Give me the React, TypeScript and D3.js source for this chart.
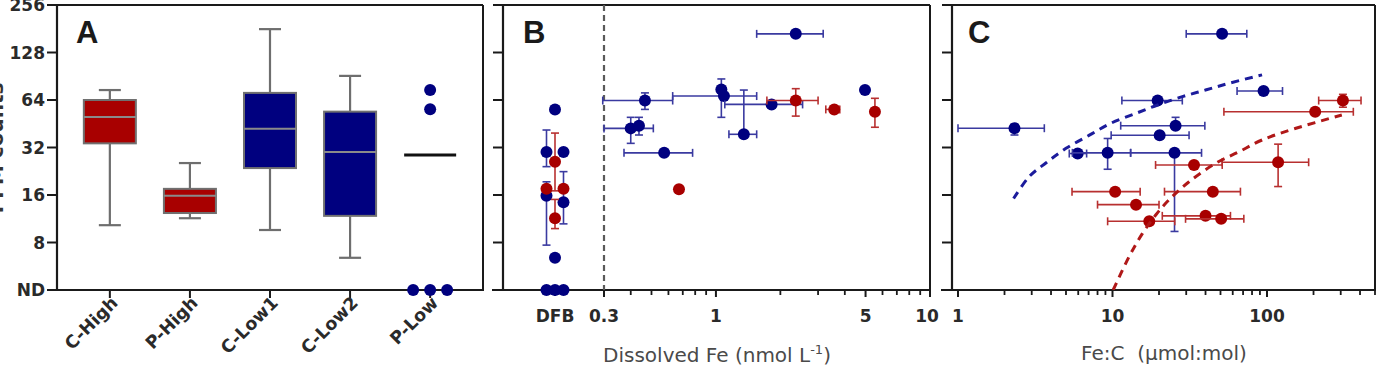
import React from 'react';
import * as d3 from 'd3';

// ---------- DATA ----------
const yTickValues = [4, 8, 16, 32, 64, 128, 256];
const yTickLabels = ['ND', '8', '16', '32', '64', '128', '256'];

// Panel A (box plots)
const categories = ['C-High', 'P-High', 'C-Low1', 'C-Low2', 'P-Low'];
const categoryGroup = ['red', 'red', 'blue', 'blue', 'blue'];
const boxMin = [10.3, 11.4, 9.6, 6.4, null];
const boxQ1 = [34, 12.3, 23.7, 11.8, null];
const boxMedian = [50, 15.8, 42, 30, 28.7];
const boxQ3 = [64, 17.5, 71, 54, null];
const boxMax = [74, 25.5, 180, 91, null];
const pLowValues = [74, 56, 4, 4, 4];
const pLowSlot = [0, 0, -1, 0, 1];

// Panel B
const bTickValues = [0.3, 1, 5, 10];
const bTickLabels = ['0.3', '1', '5', '10'];
const bMinorTicks = [0.4, 0.5, 0.6, 0.7, 0.8, 0.9, 2, 3, 4, 6, 7, 8, 9];
const dfbThreshold = 0.3;
const bBlue = [
  { x: 2.36, y: 168, xLo: 1.55, xHi: 3.17 },
  { x: 0.466, y: 63.5, xLo: 0.296, xHi: 0.628, yLo: 55.8, yHi: 71 },
  { x: 1.06, y: 74.7, yLo: 49.7, yHi: 87 },
  { x: 1.09, y: 67.8, xLo: 0.628, xHi: 1.55 },
  { x: 1.82, y: 60, xLo: 1.1, xHi: 2.54 },
  { x: 1.35, y: 38.8, xLo: 1.15, xHi: 1.55, yHi: 74 },
  { x: 4.97, y: 74 },
  { x: 0.4, y: 42.3, xLo: 0.3, xHi: 0.51, yLo: 34, yHi: 49.7 },
  { x: 0.437, y: 44, yLo: 38.4, yHi: 49.7 },
  { x: 0.573, y: 29.6, xLo: 0.372, xHi: 0.778 },
];
const bRed = [
  { x: 2.36, y: 63.5, xLo: 1.73, xHi: 3.0, yLo: 50.6, yHi: 75.5 },
  { x: 3.57, y: 55.8, xLo: 3.26, xHi: 3.79 },
  { x: 5.53, y: 53.9, yLo: 43, yHi: 65.6 },
  { x: 0.672, y: 17.4 },
];
const dfbBlue = [
  { slot: 0, y: 55.8 },
  { slot: -1, y: 30, yLo: 24.2, yHi: 41.3 },
  { slot: 1, y: 30 },
  { slot: -1, y: 15.8, yLo: 7.7, yHi: 19.4 },
  { slot: 1, y: 14.4, yLo: 10.5, yHi: 22.5 },
  { slot: 0, y: 6.4 },
  { slot: -1, y: 4 },
  { slot: 0, y: 4 },
  { slot: 1, y: 4 },
];
const dfbRed = [
  { slot: 0, y: 26, yLo: 17, yHi: 39.5 },
  { slot: -1, y: 17.5 },
  { slot: 1, y: 17.5 },
  { slot: 0, y: 11.4, yLo: 9.8, yHi: 15 },
];

// Panel C
const cTickValues = [1, 10, 100];
const cTickLabels = ['1', '10', '100'];
const cMinorTicks = [2, 3, 4, 5, 6, 7, 8, 9, 20, 30, 40, 50, 60, 70, 80, 90, 200, 300, 400, 500];
const cBlue = [
  { x: 51.2, y: 168, xLo: 30, xHi: 74 },
  { x: 95, y: 73, xLo: 64, xHi: 126 },
  { x: 19.6, y: 63.5, xLo: 11.5, xHi: 28.3 },
  { x: 2.32, y: 42.4, xLo: 1.0, xHi: 3.62, yLo: 38.4, yHi: 45 },
  { x: 25.6, y: 44, xLo: 11.3, xHi: 39.6, yHi: 49.7 },
  { x: 20.2, y: 38.3, xLo: 9.8, xHi: 31.3 },
  { x: 5.95, y: 29.3, xLo: 5.25, xHi: 6.8 },
  { x: 9.3, y: 29.6, xLo: 5.5, xHi: 13.1, yLo: 23.3, yHi: 36.5 },
  { x: 25.2, y: 29.6, xLo: 13.1, xHi: 37.7, yLo: 9.4 },
];
const cRed = [
  { x: 310, y: 63.5, xLo: 216, xHi: 406, yLo: 57.6, yHi: 69.5 },
  { x: 205, y: 53.9, xLo: 52.6, xHi: 362 },
  { x: 118, y: 25.8, xLo: 51.3, xHi: 186, yLo: 18.1, yHi: 33.6 },
  { x: 33.7, y: 24.8, xLo: 19, xHi: 51.3 },
  { x: 10.4, y: 16.8, xLo: 5.47, xHi: 15.1 },
  { x: 44.6, y: 16.8, xLo: 21.7, xHi: 67.3 },
  { x: 14.2, y: 13.9, xLo: 8, xHi: 20 },
  { x: 17.3, y: 10.9, xLo: 9.3, xHi: 25.3 },
  { x: 40, y: 11.8, xLo: 21, xHi: 58 },
  { x: 50.5, y: 11.3, xLo: 29.7, xHi: 70.8 },
];
const blueCurveX = [2.29, 2.9, 3.72, 5.0, 7.08, 9.77, 14.2, 19.6, 28.3, 40, 56.6, 92.9];
const blueCurveY = [15.2, 21, 25.6, 31.6, 38.3, 45.6, 52.7, 59.5, 67.2, 74, 81.6, 92.4];
const redCurveX = [10.1, 12.8, 15.6, 19.1, 23.2, 31.3, 46.5, 65.6, 92.9, 152, 305];
const redCurveY = [4, 6.5, 9.1, 12, 14.9, 19.4, 25.4, 30, 35.7, 42.2, 51.4];

// ---------- STYLE ----------
const FONT = '"DejaVu Sans", Verdana, sans-serif';
const LETTER_FONT = '"Liberation Sans", Arial, sans-serif';
const RED = '#a80000';
const BLUE = '#00007f';
const RED_ERR = '#b83030';
const BLUE_ERR = '#3a3aa0';
const AXIS = '#1a1a1a';
const TOP = 5;
const BOTTOM = 290;
const R = 6;

const y = d3.scaleLog().base(2).domain([4, 256]).range([BOTTOM, TOP]);

type Pt = { x?: number; y: number; xLo?: number; xHi?: number; yLo?: number; yHi?: number; slot?: number };

function ErrPoint({ px, d, xs, color, errColor }: { px: number; d: Pt; xs?: (v: number) => number; color: string; errColor: string }) {
  const py = y(d.y);
  const cap = 4;
  const els: React.ReactNode[] = [];
  if (xs && d.xLo != null && d.xHi != null) {
    const x1 = xs(d.xLo), x2 = xs(d.xHi);
    els.push(<line key="h" x1={x1} x2={x2} y1={py} y2={py} stroke={errColor} strokeWidth={1.6} />);
    els.push(<line key="hc1" x1={x1} x2={x1} y1={py - cap} y2={py + cap} stroke={errColor} strokeWidth={1.6} />);
    els.push(<line key="hc2" x1={x2} x2={x2} y1={py - cap} y2={py + cap} stroke={errColor} strokeWidth={1.6} />);
  }
  if (d.yLo != null || d.yHi != null) {
    const y1 = d.yHi != null ? y(d.yHi) : py;
    const y2 = d.yLo != null ? y(d.yLo) : py;
    els.push(<line key="v" x1={px} x2={px} y1={y1} y2={y2} stroke={errColor} strokeWidth={1.6} />);
    if (d.yHi != null) els.push(<line key="vc1" x1={px - cap} x2={px + cap} y1={y1} y2={y1} stroke={errColor} strokeWidth={1.6} />);
    if (d.yLo != null) els.push(<line key="vc2" x1={px - cap} x2={px + cap} y1={y2} y2={y2} stroke={errColor} strokeWidth={1.6} />);
  }
  return (
    <g>
      {els}
      <circle cx={px} cy={py} r={R} fill={color} />
    </g>
  );
}

function Frame({ x0, x1, axisLeft }: { x0: number; x1: number; axisLeft: number }) {
  return (
    <g>
      <line x1={x0} x2={x1} y1={TOP} y2={TOP} stroke={AXIS} strokeWidth={2} />
      <line x1={x1} x2={x1} y1={TOP} y2={BOTTOM} stroke={AXIS} strokeWidth={2} />
      <line x1={x0} x2={x0} y1={TOP - 1} y2={BOTTOM} stroke={AXIS} strokeWidth={2.2} />
      <line x1={axisLeft} x2={x1 + 1} y1={BOTTOM} y2={BOTTOM} stroke={AXIS} strokeWidth={2.2} />
      {yTickValues.map((v) => (
        <line key={v} x1={x0 - 10} x2={x0} y1={y(v)} y2={y(v)} stroke={AXIS} strokeWidth={2} />
      ))}
    </g>
  );
}

export default function App() {
  // Panel A
  const ax0 = 57, ax1 = 483;
  const xA = d3.scalePoint<string>().domain(categories).range([ax0, ax1]).padding(0.66);
  const boxW = 52;
  const capW = 22;

  // Panel B
  const bx0 = 503, bx1 = 930;
  const xB = d3.scaleLog().domain([0.3, 10]).range([604, 930]);
  const dfbX = 555;
  const slotW = 8.5;

  // Panel C
  const cx0 = 952, cx1 = 1375;
  const xC = d3.scaleLog().domain([1, 500]).range([958, 1375]);

  const lineGen = (xs: (v: number) => number, X: number[], Y: number[]) =>
    d3.line<number>().x((_, i) => xs(X[i])).y((_, i) => y(Y[i])).curve(d3.curveCatmullRom.alpha(0.5))(X);

  const tickText = { fontFamily: FONT, fontWeight: 700, fontSize: 17, fill: '#2a2a2a' } as const;
  const titleText = { fontFamily: FONT, fontSize: 20, fill: '#4a4a4a' } as const;
  const letterText = { fontFamily: LETTER_FONT, fontWeight: 700, fontSize: 31, fill: '#1a1a1a' } as const;

  return (
    <svg width={1377} height={371} style={{ position: 'absolute', left: 0, top: 0, background: '#fff' }}>
      <defs>
        <clipPath id="clipC">
          <rect x={cx0} y={TOP} width={cx1 - cx0} height={BOTTOM - TOP} />
        </clipPath>
      </defs>
      <rect x={0} y={0} width={1377} height={371} fill="#fff" />

      {/* Y axis title (cut off at the left edge, as in the reference) */}
      <text transform={`translate(3,148) rotate(-90)`} textAnchor="middle" style={{ ...titleText, fontWeight: 700, fill: '#333' }}>
        PFM counts
      </text>

      {/* ===== Panel A ===== */}
      <Frame x0={ax0} x1={ax1} axisLeft={ax0} />
      {yTickValues.map((v, i) => (
        <text key={v} x={ax0 - 12} y={y(v) + 6} textAnchor="end" style={tickText}>
          {yTickLabels[i]}
        </text>
      ))}
      {categories.map((c) => (
        <g key={c}>
          <line x1={xA(c)} x2={xA(c)} y1={BOTTOM} y2={BOTTOM + 8} stroke={AXIS} strokeWidth={2} />
          <text
            transform={`translate(${(xA(c) as number) + 9},${BOTTOM + 14}) rotate(-45)`}
            textAnchor="end"
            style={{ ...tickText, fontSize: 17.5 }}
          >
            {c}
          </text>
        </g>
      ))}
      {categories.map((c, i) => {
        const cx = xA(c) as number;
        if (boxQ1[i] == null) return null;
        const fill = categoryGroup[i] === 'red' ? RED : BLUE;
        return (
          <g key={c + 'box'}>
            <line x1={cx} x2={cx} y1={y(boxMax[i] as number)} y2={y(boxQ3[i] as number)} stroke="#6e6e6e" strokeWidth={2.2} />
            <line x1={cx} x2={cx} y1={y(boxQ1[i] as number)} y2={y(boxMin[i] as number)} stroke="#6e6e6e" strokeWidth={2.2} />
            <line x1={cx - capW / 2} x2={cx + capW / 2} y1={y(boxMax[i] as number)} y2={y(boxMax[i] as number)} stroke="#6e6e6e" strokeWidth={2.2} />
            <line x1={cx - capW / 2} x2={cx + capW / 2} y1={y(boxMin[i] as number)} y2={y(boxMin[i] as number)} stroke="#6e6e6e" strokeWidth={2.2} />
            <rect
              x={cx - boxW / 2}
              y={y(boxQ3[i] as number)}
              width={boxW}
              height={y(boxQ1[i] as number) - y(boxQ3[i] as number)}
              fill={fill}
              stroke="#707070"
              strokeWidth={2}
            />
            <line x1={cx - boxW / 2} x2={cx + boxW / 2} y1={y(boxMedian[i])} y2={y(boxMedian[i])} stroke="#8a8a8a" strokeWidth={2} />
          </g>
        );
      })}
      {(() => {
        const c = 'P-Low';
        const cx = xA(c) as number;
        const i = categories.indexOf(c);
        return (
          <g>
            <line x1={cx - 26} x2={cx + 26} y1={y(boxMedian[i])} y2={y(boxMedian[i])} stroke="#111" strokeWidth={3} />
            {pLowValues.map((v, k) => (
              <circle key={k} cx={cx + pLowSlot[k] * 17} cy={y(v)} r={R} fill={BLUE} />
            ))}
          </g>
        );
      })()}
      <text x={76} y={43} style={letterText}>A</text>

      {/* ===== Panel B ===== */}
      <Frame x0={bx0} x1={bx1} axisLeft={bx0 - 11} />
      <line x1={xB(dfbThreshold)} x2={xB(dfbThreshold)} y1={TOP} y2={BOTTOM} stroke="#5a5a5a" strokeWidth={2.2} strokeDasharray="6,4" />
      <line x1={dfbX} x2={dfbX} y1={BOTTOM} y2={BOTTOM + 6} stroke={AXIS} strokeWidth={2} />
      {bTickValues.map((v) => (
        <line key={v} x1={xB(v)} x2={xB(v)} y1={BOTTOM} y2={BOTTOM + 7} stroke={AXIS} strokeWidth={2} />
      ))}
      {bMinorTicks.map((v) => (
        <line key={v} x1={xB(v)} x2={xB(v)} y1={BOTTOM} y2={BOTTOM + 5} stroke={AXIS} strokeWidth={1.8} />
      ))}
      <text x={dfbX} y={BOTTOM + 32} textAnchor="middle" style={tickText}>DFB</text>
      {bTickValues.map((v, i) => (
        <text key={v} x={xB(v) - (v === 10 ? 3 : 0)} y={BOTTOM + 32} textAnchor="middle" style={tickText}>
          {bTickLabels[i]}
        </text>
      ))}
      <text x={717} y={362} textAnchor="middle" style={titleText}>
        Dissolved Fe (nmol L
        <tspan dy={-8} fontSize={13}>-1</tspan>
        <tspan dy={8}>)</tspan>
      </text>
      {bBlue.map((d, k) => (
        <ErrPoint key={'bb' + k} px={xB(d.x)} d={d} xs={xB} color={BLUE} errColor={BLUE_ERR} />
      ))}
      {bRed.map((d, k) => (
        <ErrPoint key={'br' + k} px={xB(d.x)} d={d} xs={xB} color={RED} errColor={RED_ERR} />
      ))}
      {dfbBlue.map((d, k) => (
        <ErrPoint key={'db' + k} px={dfbX + (d.slot as number) * slotW} d={d} color={BLUE} errColor={BLUE_ERR} />
      ))}
      {dfbRed.map((d, k) => (
        <ErrPoint key={'dr' + k} px={dfbX + (d.slot as number) * slotW} d={d} color={RED} errColor={RED_ERR} />
      ))}
      <text x={523} y={43} style={letterText}>B</text>

      {/* ===== Panel C ===== */}
      <Frame x0={cx0} x1={cx1} axisLeft={cx0 - 11} />
      {cTickValues.map((v) => (
        <line key={v} x1={xC(v)} x2={xC(v)} y1={BOTTOM} y2={BOTTOM + 7} stroke={AXIS} strokeWidth={2} />
      ))}
      {cMinorTicks.map((v) => (
        <line key={v} x1={xC(v)} x2={xC(v)} y1={BOTTOM} y2={BOTTOM + 5} stroke={AXIS} strokeWidth={1.8} />
      ))}
      {cTickValues.map((v, i) => (
        <text key={v} x={xC(v)} y={BOTTOM + 32} textAnchor="middle" style={tickText}>
          {cTickLabels[i]}
        </text>
      ))}
      <text x={1164} y={360} textAnchor="middle" style={titleText} xmlSpace="preserve">
        {'Fe:C  (\u00b5mol:mol)'}
      </text>
      {cBlue.map((d, k) => (
        <ErrPoint key={'cb' + k} px={xC(d.x as number)} d={d} xs={xC} color={BLUE} errColor={BLUE_ERR} />
      ))}
      {cRed.map((d, k) => (
        <ErrPoint key={'cr' + k} px={xC(d.x as number)} d={d} xs={xC} color={RED} errColor={RED_ERR} />
      ))}
      <g clipPath="url(#clipC)">
        <path d={lineGen(xC, blueCurveX, blueCurveY) || ''} fill="none" stroke="#1c1c9c" strokeWidth={3} strokeDasharray="8,6" />
        <path d={lineGen(xC, redCurveX, redCurveY) || ''} fill="none" stroke="#b01818" strokeWidth={3} strokeDasharray="8,6" />
      </g>
      <text x={968} y={43} style={letterText}>C</text>
    </svg>
  );
}
